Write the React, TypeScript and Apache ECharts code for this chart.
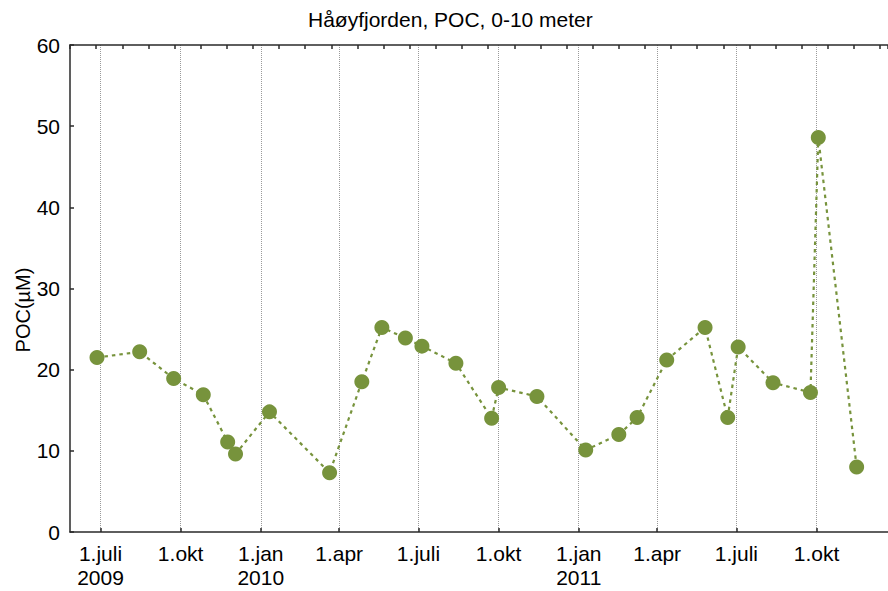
import React, { useEffect, useRef } from "react";
import * as echarts from "echarts";

const sampleDates = [
  "2009-06-27", "2009-08-15", "2009-09-23", "2009-10-27", "2009-11-24", "2009-12-03",
  "2010-01-11", "2010-03-21", "2010-04-27", "2010-05-20", "2010-06-16", "2010-07-05",
  "2010-08-13", "2010-09-23", "2010-10-01", "2010-11-14", "2011-01-09", "2011-02-16",
  "2011-03-09", "2011-04-12", "2011-05-26", "2011-06-21", "2011-07-03", "2011-08-12",
  "2011-09-24", "2011-10-03", "2011-11-16",
];
const pocValues = [
  21.5, 22.2, 18.9, 16.9, 11.1, 9.6,
  14.8, 7.3, 18.5, 25.2, 23.9, 22.9,
  20.8, 14.0, 17.8, 16.7, 10.1, 12.0,
  14.1, 21.2, 25.2, 14.1, 22.8, 18.4,
  17.2, 48.6, 8.0,
];
const quarterDates = [
  "2009-07-01", "2009-10-01", "2010-01-01", "2010-04-01", "2010-07-01",
  "2010-10-01", "2011-01-01", "2011-04-01", "2011-07-01", "2011-10-01",
];
const quarterLabels = [
  "1.juli\n2009", "1.okt", "1.jan\n2010", "1.apr", "1.juli",
  "1.okt", "1.jan\n2011", "1.apr", "1.juli", "1.okt",
];
const xStart = "2009-05-27";
const xEnd = "2011-12-22";
const topTickStepDays = 30;
const yMin = 0;
const yMax = 60;
const yStep = 10;

const title = "Håøyfjorden, POC, 0-10 meter";
const yName = "POC(µM)";

const DAY = 86400000;
const ts = (s: string) => Date.UTC(+s.slice(0, 4), +s.slice(5, 7) - 1, +s.slice(8, 10));
const dayOf = (s: string) => Math.round((ts(s) - ts(xStart)) / DAY);

export default function App() {
  const ref = useRef<HTMLDivElement>(null);
  useEffect(() => {
    if (!ref.current) return;
    const chart = echarts.init(ref.current, undefined, { renderer: "svg" });
    const qDays = quarterDates.map(dayOf);
    const spanDays = dayOf(xEnd);
    const font = "'Liberation Sans', Arial, sans-serif";
    const axisLine = { show: true, lineStyle: { color: "#2a2a2a", width: 1.5 } };
    const tickStyle = { color: "#2a2a2a", width: 1.5 };
    const green = "#77933C";

    chart.setOption({
      animation: false,
      title: {
        text: title,
        left: 308,
        top: 9,
        padding: 0,
        textStyle: { fontSize: 21, fontWeight: "normal", color: "#000", fontFamily: font },
      },
      grid: { left: 70, right: 0, top: 45, bottom: 59, containLabel: false },
      xAxis: [
        {
          type: "value",
          min: 0,
          max: spanDays,
          position: "bottom",
          axisLine,
          axisTick: {
            show: true,
            inside: true,
            length: 4,
            customValues: qDays,
            lineStyle: tickStyle,
          },
          axisLabel: {
            show: true,
            customValues: qDays,
            margin: 9,
            fontSize: 21,
            lineHeight: 24,
            color: "#000",
            fontFamily: font,
            hideOverlap: false,
            showMinLabel: true,
            showMaxLabel: true,
            formatter: (v: number) => {
              const i = qDays.indexOf(Math.round(v));
              return i >= 0 ? quarterLabels[i] : "";
            },
          },
          splitLine: {
            show: true,
            lineStyle: { color: "#9a9a9a", width: 1, type: [1, 1] },
          },
        },
        {
          type: "value",
          min: 0,
          max: spanDays,
          interval: topTickStepDays,
          position: "top",
          axisLine,
          axisTick: { show: true, inside: true, length: 4, lineStyle: tickStyle },
          axisLabel: { show: false },
          splitLine: { show: false },
        },
      ],
      yAxis: {
        type: "value",
        min: yMin,
        max: yMax,
        interval: yStep,
        axisLine,
        axisTick: { show: true, inside: true, length: 4, lineStyle: tickStyle },
        axisLabel: { margin: 10, fontSize: 21, color: "#000", fontFamily: font },
        splitLine: { show: false },
      },
      graphic: [
        {
          type: "text",
          x: 23,
          y: 310,
          rotation: Math.PI / 2,
          style: {
            text: yName,
            fontSize: 20,
            fill: "#000",
            fontFamily: font,
            align: "center",
            verticalAlign: "middle",
          },
        },
      ],
      series: [
        {
          type: "line",
          xAxisIndex: 0,
          data: sampleDates.map((d, i) => [dayOf(d), pocValues[i]]),
          symbol: "circle",
          symbolSize: 15,
          itemStyle: { color: green },
          lineStyle: { color: green, width: 2.2, type: [3.5, 4] },
          silent: true,
          emphasis: { disabled: true },
        },
      ],
    });
    return () => chart.dispose();
  }, []);
  return (
    <div
      ref={ref}
      style={{ position: "absolute", left: 0, top: 0, width: 888, height: 591, background: "#fff" }}
    />
  );
}
